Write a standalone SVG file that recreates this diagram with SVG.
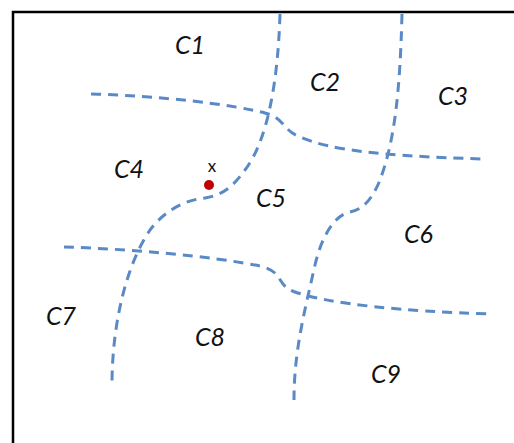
<svg xmlns="http://www.w3.org/2000/svg" width="514" height="443" viewBox="0 0 514 443">
<style>
.b{fill:none;stroke:#5a8ac6;stroke-width:3;stroke-dasharray:10 7}
.l{font-family:Lato,"Open Sans",sans-serif;font-style:italic;font-size:25px;fill:#111}
</style>
<rect width="514" height="443" fill="#fff"/>
<path d="M13,443 V12 H514" fill="none" stroke="#000" stroke-width="2.5"/>
<g id="connectors">
<path class="b" d="M280,14 C278,80 268,140 245,170 C232,188 222,195 205,198 C185,200 165,210 150,230 C128,262 112,320 112,385"/>
<path class="b" d="M402,14 C400,90 395,140 380,180 C372,200 362,210 350,212 C335,215 322,235 315,265 C305,310 294,350 294,400"/>
<path class="b" d="M91,94 C160,96 230,104 265,113 C285,118 282,130 300,137 C330,150 380,156 484,159"/>
<path class="b" d="M64,247 C130,249 210,256 260,266 C285,272 275,285 295,292 C330,304 400,311 490,314"/>
</g>
<g id="C1"><text class="l" x="175" y="54">C1</text></g>
<g id="C2"><text class="l" x="310" y="91">C2</text></g>
<g id="C3"><text class="l" x="438" y="105">C3</text></g>
<g id="C4"><text class="l" x="114" y="178">C4</text></g>
<g id="C5"><text class="l" x="256" y="207">C5</text></g>
<g id="C6"><text class="l" x="404" y="243">C6</text></g>
<g id="C7"><text class="l" x="46" y="325">C7</text></g>
<g id="C8"><text class="l" x="195" y="346">C8</text></g>
<g id="C9"><text class="l" x="371" y="383">C9</text></g>
<g id="point">
<circle cx="209" cy="185" r="5" fill="#c00000"/>
<text x="212" y="172" text-anchor="middle" font-family="Lato,'Open Sans',sans-serif" font-size="17" fill="#111">x</text>
</g>
</svg>
